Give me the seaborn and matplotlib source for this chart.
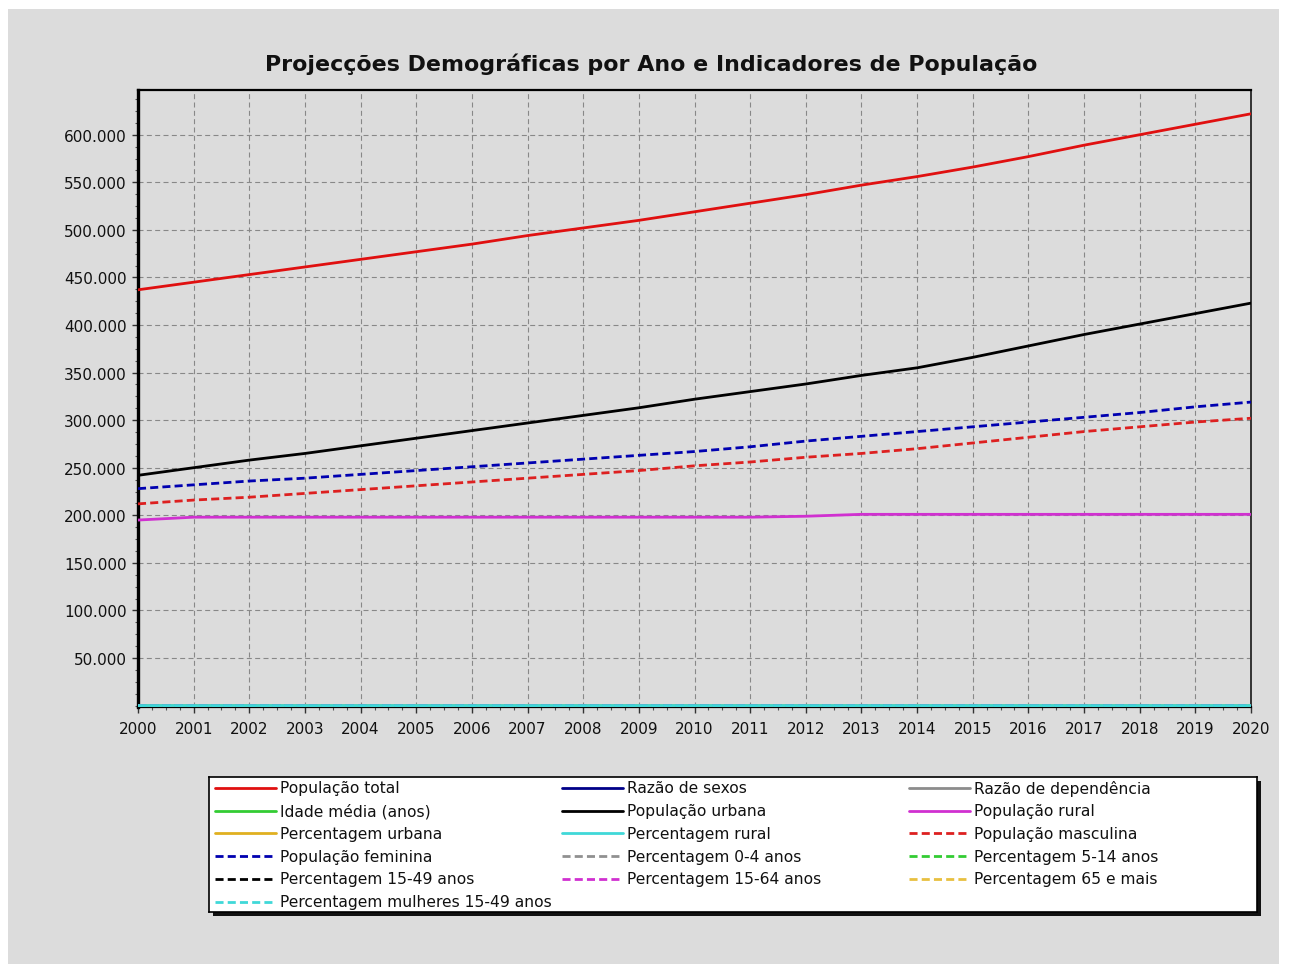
import matplotlib
matplotlib.use("Agg")
import matplotlib.pyplot as plt
from matplotlib.patches import Rectangle
from matplotlib.ticker import MultipleLocator, FuncFormatter
import seaborn as sns

# ---------------------------------------------------------------
# Dados
# ---------------------------------------------------------------
anos = [2000, 2001, 2002, 2003, 2004, 2005, 2006, 2007, 2008, 2009, 2010,
        2011, 2012, 2013, 2014, 2015, 2016, 2017, 2018, 2019, 2020]

populacao_total = [437000, 445000, 453000, 461000, 469000, 477000, 485000,
                   494000, 502000, 510000, 519000, 528000, 537000, 547000,
                   556000, 566000, 577000, 589000, 600000, 611000, 622000]
populacao_urbana = [242000, 250000, 258000, 265000, 273000, 281000, 289000,
                    297000, 305000, 313000, 322000, 330000, 338000, 347000,
                    355000, 366000, 378000, 390000, 401000, 412000, 423000]
populacao_rural = [195000, 198000, 198000, 198000, 198000, 198000, 198000,
                   198000, 198000, 198000, 198000, 198000, 199000, 201000,
                   201000, 201000, 201000, 201000, 201000, 201000, 201000]
populacao_masculina = [212000, 216000, 219000, 223000, 227000, 231000, 235000,
                       239000, 243000, 247000, 252000, 256000, 261000, 265000,
                       270000, 276000, 282000, 288000, 293000, 298000, 302000]
populacao_feminina = [228000, 232000, 236000, 239000, 243000, 247000, 251000,
                      255000, 259000, 263000, 267000, 272000, 278000, 283000,
                      288000, 293000, 298000, 303000, 308000, 314000, 319000]

# indicadores pequenos (ficam colados ao eixo nesta escala)
razao_sexos = [93.0, 93.1, 92.8, 93.3, 93.4, 93.5, 93.6, 93.7, 93.8, 93.9, 94.4,
               94.1, 93.9, 93.6, 93.8, 94.2, 94.6, 95.0, 95.1, 94.9, 94.7]
razao_dependencia = [95, 94, 93, 92, 91, 90, 89, 88, 87, 86, 85,
                     84, 83, 82, 81, 80, 79, 78, 77, 76, 75]
idade_media = [17.5, 17.6, 17.8, 17.9, 18.0, 18.2, 18.3, 18.5, 18.6, 18.8, 18.9,
               19.1, 19.2, 19.4, 19.5, 19.7, 19.8, 20.0, 20.1, 20.3, 20.5]
pct_urbana = [55.4, 56.2, 57.0, 57.5, 58.2, 58.9, 59.6, 60.1, 60.8, 61.4, 62.0,
              62.5, 62.9, 63.4, 63.8, 64.5, 65.5, 66.2, 66.8, 67.4, 68.0]
pct_rural = [44.6, 43.8, 43.0, 42.5, 41.8, 41.1, 40.4, 39.9, 39.2, 38.6, 38.0,
             37.5, 37.1, 36.6, 36.2, 35.5, 34.5, 33.8, 33.2, 32.6, 32.0]
pct_0_4 = [17.0, 16.9, 16.7, 16.6, 16.4, 16.3, 16.1, 16.0, 15.8, 15.7, 15.5,
           15.4, 15.2, 15.1, 14.9, 14.8, 14.6, 14.5, 14.3, 14.2, 14.0]
pct_5_14 = [27.0, 26.9, 26.7, 26.6, 26.4, 26.3, 26.1, 26.0, 25.8, 25.7, 25.5,
            25.4, 25.2, 25.1, 24.9, 24.8, 24.6, 24.5, 24.3, 24.2, 24.0]
pct_15_49 = [45.0, 45.2, 45.5, 45.7, 46.0, 46.2, 46.5, 46.7, 47.0, 47.2, 47.5,
             47.7, 48.0, 48.2, 48.5, 48.7, 49.0, 49.2, 49.5, 49.7, 50.0]
pct_15_64 = [52.0, 52.2, 52.5, 52.7, 53.0, 53.2, 53.5, 53.7, 54.0, 54.2, 54.5,
             54.7, 55.0, 55.2, 55.5, 55.7, 56.0, 56.2, 56.5, 56.7, 57.0]
pct_65_mais = [3.0, 3.0, 3.1, 3.1, 3.1, 3.2, 3.2, 3.2, 3.2, 3.3, 3.3,
               3.3, 3.3, 3.4, 3.4, 3.4, 3.4, 3.4, 3.5, 3.5, 3.5]
pct_mulheres_15_49 = [23.0, 23.1, 23.2, 23.3, 23.4, 23.5, 23.6, 23.7, 23.8, 23.9, 24.0,
                      24.1, 24.2, 24.3, 24.4, 24.5, 24.6, 24.7, 24.8, 24.9, 25.0]

nomes = ["População total", "Razão de sexos", "Razão de dependência",
         "Idade média (anos)", "População urbana", "População rural",
         "Percentagem urbana", "Percentagem rural", "População masculina",
         "População feminina", "Percentagem 0-4 anos", "Percentagem 5-14 anos",
         "Percentagem 15-49 anos", "Percentagem 15-64 anos", "Percentagem 65 e mais",
         "Percentagem mulheres 15-49 anos"]
valores = [populacao_total, razao_sexos, razao_dependencia, idade_media,
           populacao_urbana, populacao_rural, pct_urbana, pct_rural,
           populacao_masculina, populacao_feminina, pct_0_4, pct_5_14,
           pct_15_49, pct_15_64, pct_65_mais, pct_mulheres_15_49]

# estilos
cores = ["#e01010", "#000088", "#8c8c8c", "#33cc33", "#000000", "#d030d0",
         "#e0b020", "#40d8d8", "#dd2020", "#0000b0", "#909090", "#33cc33",
         "#000000", "#d030d0", "#e8c040", "#40d8d8"]
tracejado = (0, (2.9, 1.5))
estilos = ["-"] * 8 + [tracejado] * 8

FUNDO = "#dcdcdc"

sns.set_theme(style="ticks")
plt.rcParams["font.family"] = ["DejaVu Sans"]

fig = plt.figure(figsize=(12.89, 9.70), dpi=100, facecolor="white")
fig.patches.append(Rectangle((8 / 1289, 5 / 970), 1271 / 1289, 955 / 970,
                             transform=fig.transFigure, facecolor=FUNDO,
                             edgecolor="none", zorder=-10))

ax = fig.add_axes([138 / 1289, 1 - 708 / 970, 1113 / 1289, 617 / 970])
ax.set_facecolor(FUNDO)

for i, (nome, serie) in enumerate(zip(nomes, valores)):
    z = 5 if nome == "Percentagem rural" else 3
    sns.lineplot(x=anos, y=serie, ax=ax, color=cores[i], linestyle=estilos[i],
                 linewidth=2.0, zorder=z, legend=False)

ax.set_xlim(2000, 2020)
ax.set_ylim(-1500, 647000)
ax.set_xticks(anos)
ax.set_xticklabels([str(a) for a in anos])
ax.set_yticks(list(range(50000, 650000, 50000)))
ax.yaxis.set_major_formatter(FuncFormatter(lambda v, p: f"{int(v):,}".replace(",", ".")))
ax.xaxis.set_minor_locator(MultipleLocator(0.25))
ax.yaxis.set_minor_locator(MultipleLocator(12500))
ax.tick_params(axis="both", which="major", direction="out", length=4, width=1,
               color="#333333", labelsize=11, labelcolor="#111111", pad=4)
ax.tick_params(axis="both", which="minor", direction="out", length=2.5, width=0.8,
               color="#555555")
ax.tick_params(axis="x", which="major", pad=6)
ax.set_xlabel("")
ax.set_ylabel("")

ax.grid(True, which="major", linestyle=(0, (4.5, 3)), linewidth=0.8, color="#888888")
ax.set_axisbelow(True)

for lado, lw, cor in [("left", 2.4, "black"), ("bottom", 1.6, "black"),
                      ("top", 1.6, "black"), ("right", 1.4, "#333333")]:
    ax.spines[lado].set_visible(True)
    ax.spines[lado].set_linewidth(lw)
    ax.spines[lado].set_color(cor)

fig.text(651 / 1289, 1 - 64 / 970,
         "Projecções Demográficas por Ano e Indicadores de População",
         ha="center", va="center", fontsize=15.9, fontweight="bold", color="#111111")

# legenda desenhada à mão, com colunas de largura igual
lx, ly, lw_, lh = 209, 778, 1048, 135
fig.patches.append(Rectangle(((lx + 4) / 1289, 1 - (ly + lh + 4) / 970), lw_ / 1289, lh / 970,
                             transform=fig.transFigure, facecolor="#111111",
                             edgecolor="none", zorder=-5))
axl = fig.add_axes([lx / 1289, 1 - (ly + lh) / 970, lw_ / 1289, lh / 970])
axl.set_facecolor("white")
axl.set_xlim(0, lw_)
axl.set_ylim(lh, 0)
axl.set_xticks([])
axl.set_yticks([])
for s in axl.spines.values():
    s.set_color("black")
    s.set_linewidth(1.2)

for i, nome in enumerate(nomes):
    col, lin = i % 3, i // 3
    x0 = 6 + col * 347
    y = 11 + lin * 22.7
    axl.plot([x0, x0 + 61], [y, y], color=cores[i], linestyle=estilos[i], linewidth=2.0)
    axl.text(x0 + 65, y, nome, va="center", ha="left", fontsize=11.2, color="#111111")

fig.savefig("out.png", dpi=100, facecolor=fig.get_facecolor())
